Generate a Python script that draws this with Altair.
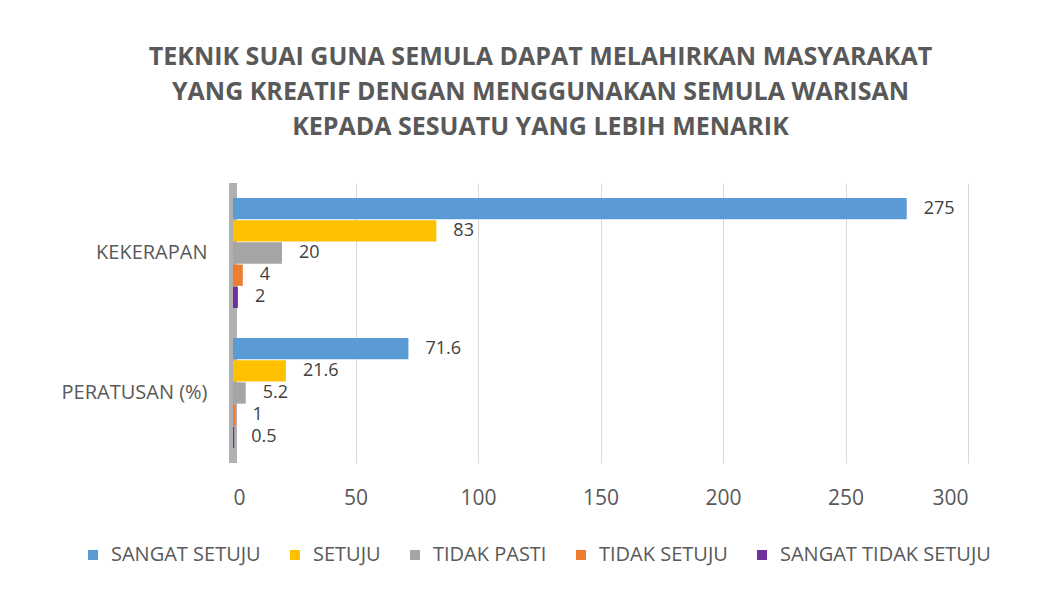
import altair as alt
import pandas as pd

categories = ["KEKERAPAN", "PERATUSAN (%)"]
series = ["SANGAT SETUJU", "SETUJU", "TIDAK PASTI", "TIDAK SETUJU", "SANGAT TIDAK SETUJU"]
kekerapan = [275, 83, 20, 4, 2]
peratusan = [71.6, 21.6, 5.2, 1, 0.5]
colors = ["#5B9BD5", "#FFC000", "#A5A5A5", "#ED7D31", "#7030A0"]
x_ticks = [0, 50, 100, 150, 200, 250, 300]
title_lines = [
    "TEKNIK SUAI GUNA SEMULA DAPAT MELAHIRKAN MASYARAKAT",
    "YANG KREATIF DENGAN MENGGUNAKAN SEMULA WARISAN",
    "KEPADA SESUATU YANG LEBIH MENARIK",
]

def fmt(v):
    return str(int(v)) if float(v).is_integer() else str(v)

rows = []
for cat, vals in zip(categories, [kekerapan, peratusan]):
    for s, v in zip(series, vals):
        rows.append({"kategori": cat, "siri": s, "nilai": v, "label": fmt(v)})
df = pd.DataFrame(rows)

FONT = "Open Sans"
TXT = "#595959"

y_enc = alt.Y("kategori:N", sort=categories,
              scale=alt.Scale(paddingInner=0.214, paddingOuter=0.107),
              axis=alt.Axis(title=None, ticks=False, domain=False, labelFontSize=20,
                            labelColor=TXT, labelPadding=26, labelFont=FONT))
yoff = alt.YOffset("siri:N", sort=series, scale=alt.Scale(paddingInner=0.04))
x_enc = alt.X("nilai:Q", scale=alt.Scale(domain=[0, 300], nice=False),
              axis=alt.Axis(title=None, values=x_ticks, grid=True, gridColor="#D9D9D9",
                            domain=False, ticks=False, labelFontSize=21, labelColor=TXT,
                            labelPadding=24, labelFont=FONT))

base = alt.Chart(df)

wall = base.mark_rule(color="#B0B0B0", strokeWidth=7, opacity=0.8).encode(
    x=alt.datum(0)
)

bars = base.mark_bar().encode(
    x=x_enc,
    y=y_enc,
    yOffset=yoff,
    color=alt.Color("siri:N", sort=series,
                    scale=alt.Scale(domain=series, range=colors),
                    legend=alt.Legend(title=None, orient="none", direction="horizontal",
                                      legendX=-150, legendY=362, symbolType="square",
                                      symbolSize=100, symbolStrokeWidth=0, labelOffset=8,
                                      labelFontSize=20, labelColor=TXT, labelFont=FONT,
                                      labelLimit=0, columnPadding=24, columns=5)),
)

labels = base.mark_text(align="left", baseline="middle", dx=17, fontSize=18,
                        color="#404040", font=FONT).encode(
    x="nilai:Q",
    y=alt.Y("kategori:N", sort=categories),
    yOffset=alt.YOffset("siri:N", sort=series),
    text="label:N",
)

chart = alt.layer(wall, bars, labels).properties(
    width=735,
    height=280,
    padding={"left": 233, "top": 183, "right": 81, "bottom": 127},
    autosize=alt.AutoSizeParams(type="none"),
    background="white",
    title=alt.TitleParams(text=title_lines, fontSize=25, font=FONT, fontWeight="bold",
                          color=TXT, anchor="middle", lineHeight=35, offset=40, dx=-60),
).configure_view(stroke=None)

chart.save("out.html", embed_options={"renderer": "svg", "actions": False})
